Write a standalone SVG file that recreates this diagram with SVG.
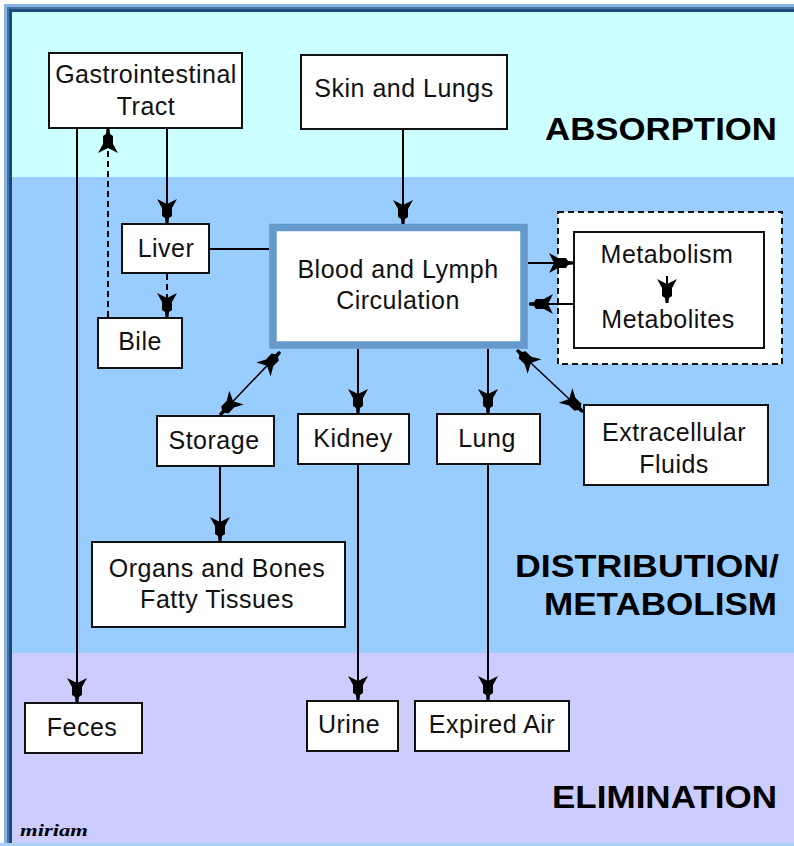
<svg xmlns="http://www.w3.org/2000/svg" width="794" height="846" viewBox="0 0 794 846">
<style>
.box{fill:#fff;stroke:#111;stroke-width:2}
.t{font-family:"Liberation Sans",Arial,sans-serif;font-size:25px;letter-spacing:0.5px;text-anchor:middle;fill:#111}
.h{font-family:"Liberation Sans",Arial,sans-serif;font-size:31px;font-weight:bold;fill:#000}
.ln{fill:none;stroke:#000;stroke-width:2}
.thin{fill:none;stroke:#000;stroke-width:1.5}
.dash{fill:none;stroke:#000;stroke-width:2;stroke-dasharray:6 4}
.arr{marker-end:url(#ah)}
.both{marker-start:url(#ah);marker-end:url(#ah)}
</style>
<defs>
<marker id="ah" markerUnits="userSpaceOnUse" viewBox="-26 -11 28 22" markerWidth="28" markerHeight="22" refX="0" refY="0" orient="auto-start-reverse" overflow="visible">
<path d="M0,-1.5 L-5,-2 L-7,-5 L-15,-5 L-24,-10 L-19,0 L-24,10 L-15,5 L-7,5 L-5,2 L0,1.5 Z" fill="#000"/>
</marker>
</defs>
<!-- frame -->
<rect x="0" y="0" width="794" height="846" fill="#fff"/>
<rect x="4" y="4" width="790" height="842" fill="#88b4e4"/>
<rect x="7" y="7" width="787" height="839" fill="#4477aa"/>
<rect x="9" y="9" width="785" height="837" fill="#1d4a7a"/>
<!-- bands -->
<rect x="12" y="12" width="782" height="165" fill="#ccffff"/>
<rect x="12" y="177" width="782" height="476" fill="#99ccff"/>
<rect x="12" y="653" width="782" height="190" fill="#ccccff"/>
<rect x="0" y="843" width="794" height="3" fill="#a8d0f4"/>
<!-- section labels -->
<text class="h" x="545" y="140" textLength="232" lengthAdjust="spacingAndGlyphs">ABSORPTION</text>
<text class="h" x="515" y="577" textLength="264" lengthAdjust="spacingAndGlyphs">DISTRIBUTION/</text>
<text class="h" x="544" y="615" textLength="233" lengthAdjust="spacingAndGlyphs">METABOLISM</text>
<text class="h" x="552" y="808" textLength="225" lengthAdjust="spacingAndGlyphs">ELIMINATION</text>
<text x="20" y="836" textLength="68" lengthAdjust="spacingAndGlyphs" style="font-family:'Liberation Serif',serif;font-size:16px;font-style:italic;font-weight:bold;fill:#000">miriam</text>
<!-- nodes -->
<g id="gi"><rect class="box" x="49" y="53" width="193" height="75"/><text class="t" x="146" y="83">Gastrointestinal</text><text class="t" x="146" y="115">Tract</text></g>
<g id="skin"><rect class="box" x="301" y="55" width="206" height="74"/><text class="t" x="404" y="97">Skin and Lungs</text></g>
<g id="liver"><rect class="box" x="122" y="224" width="87" height="49"/><text class="t" x="166" y="257">Liver</text></g>
<g id="bile"><rect class="box" x="98" y="318" width="84" height="50"/><text class="t" x="140" y="350">Bile</text></g>
<g id="blood"><rect x="273" y="227.5" width="251" height="117.5" fill="#fff" stroke="#6699cc" stroke-width="7.5"/><text class="t" x="398" y="278">Blood and Lymph</text><text class="t" x="398" y="309">Circulation</text></g>
<g id="metabolism"><rect x="558" y="212" width="224" height="152" fill="#fff" stroke="#111" stroke-width="2" stroke-dasharray="6 4"/><rect class="box" x="574" y="232" width="190" height="116"/><text class="t" x="667" y="263">Metabolism</text><text class="t" x="668" y="328">Metabolites</text></g>
<g id="extracellular"><rect class="box" x="584" y="405" width="184" height="80"/><text class="t" x="674" y="441">Extracellular</text><text class="t" x="674" y="473">Fluids</text></g>
<g id="storage"><rect class="box" x="157" y="416" width="117" height="50"/><text class="t" x="214" y="449">Storage</text></g>
<g id="kidney"><rect class="box" x="298" y="414" width="111" height="50"/><text class="t" x="353" y="447">Kidney</text></g>
<g id="lung"><rect class="box" x="437" y="414" width="103" height="50"/><text class="t" x="487" y="447">Lung</text></g>
<g id="organs"><rect class="box" x="92" y="542" width="253" height="85"/><text class="t" x="217" y="577">Organs and Bones</text><text class="t" x="217" y="608">Fatty Tissues</text></g>
<g id="feces"><rect class="box" x="25" y="703" width="117" height="50"/><text class="t" x="82" y="736">Feces</text></g>
<g id="urine"><rect class="box" x="307" y="701" width="91" height="50"/><text class="t" x="349" y="733">Urine</text></g>
<g id="expired"><rect class="box" x="415" y="701" width="154" height="50"/><text class="t" x="492" y="733">Expired Air</text></g>
<!-- connectors -->
<g id="connectors">
<line class="ln arr" x1="77" y1="129" x2="77" y2="702"/>
<line class="ln arr" x1="167" y1="129" x2="167" y2="223"/>
<line class="dash arr" x1="167" y1="274" x2="167" y2="317"/>
<line class="dash arr" x1="108" y1="317" x2="108" y2="129"/>
<line class="ln" x1="209" y1="249" x2="269" y2="249"/>
<line class="ln arr" x1="403" y1="130" x2="403" y2="224"/>
<line class="ln arr" x1="528" y1="263" x2="573" y2="263"/>
<line class="ln arr" x1="573" y1="304" x2="529" y2="304"/>
<line class="ln arr" x1="667" y1="276" x2="667" y2="303"/>
<line class="thin both" x1="220" y1="415" x2="280" y2="352"/>
<line class="ln arr" x1="358" y1="349" x2="358" y2="413"/>
<line class="ln arr" x1="488" y1="349" x2="488" y2="413"/>
<line class="thin both" x1="517" y1="350" x2="583" y2="412"/>
<line class="ln arr" x1="220" y1="467" x2="220" y2="541"/>
<line class="ln arr" x1="358" y1="465" x2="358" y2="700"/>
<line class="ln arr" x1="488" y1="465" x2="488" y2="700"/>
</g>
</svg>
